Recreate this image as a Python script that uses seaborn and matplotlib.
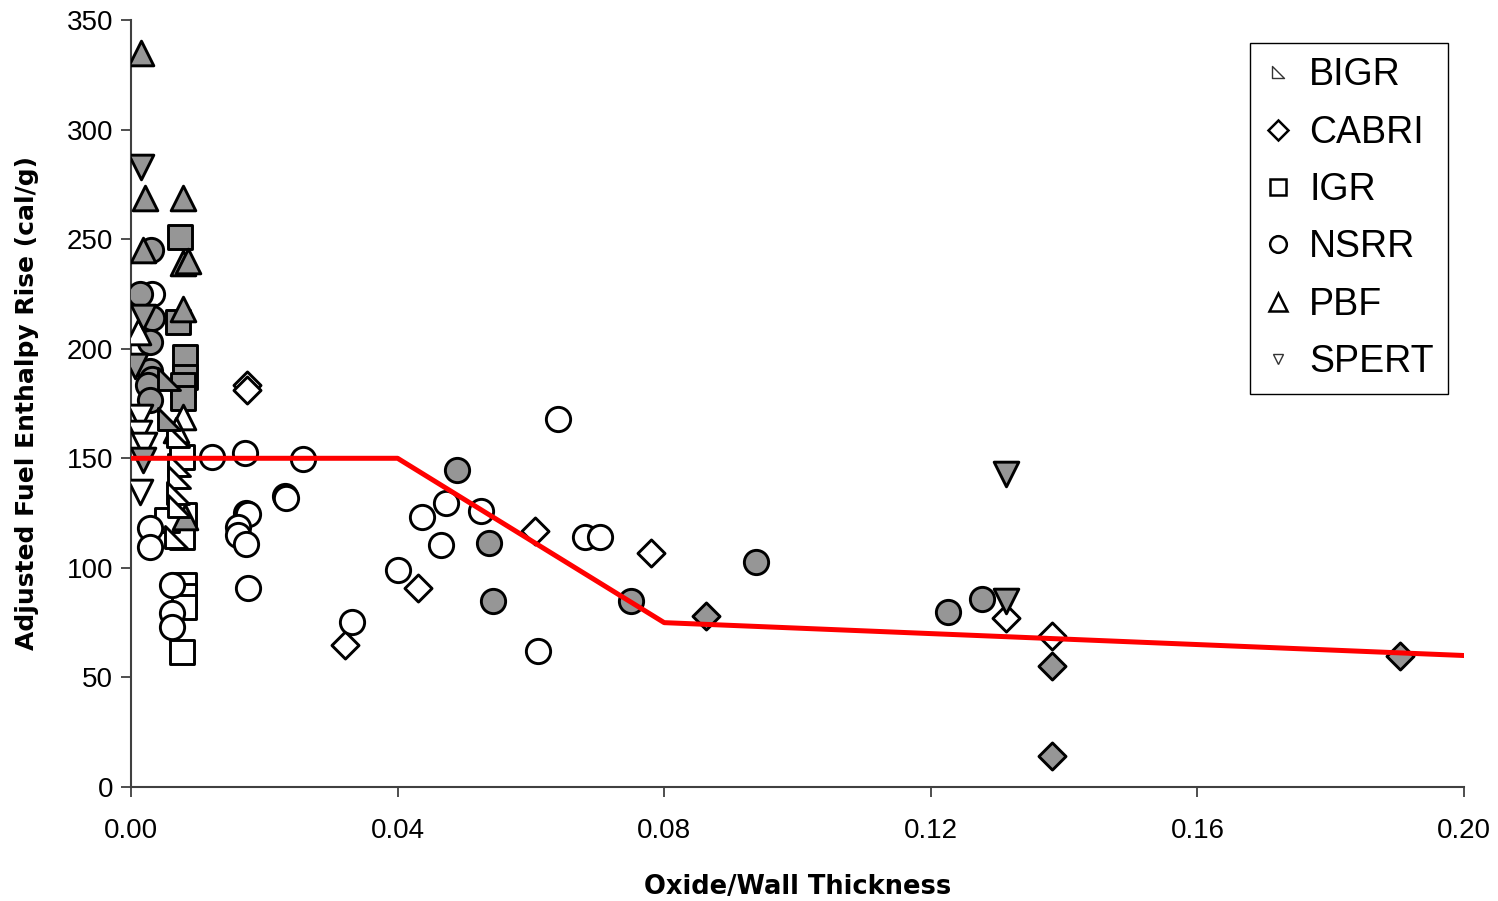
import numpy as np
import pandas as pd
import matplotlib
matplotlib.use("Agg")
import matplotlib.pyplot as plt
import seaborn as sns
from matplotlib.lines import Line2D
from matplotlib.path import Path

sns.set_theme(style="white")
plt.rcParams['font.family'] = ['Liberation Sans', 'DejaVu Sans']
plt.rcParams['text.color'] = 'black'
plt.rcParams['axes.labelcolor'] = 'black'
plt.rcParams['xtick.color'] = 'black'
plt.rcParams['ytick.color'] = 'black'

# ---------------- data ----------------
facilities = ["BIGR", "CABRI", "IGR", "NSRR", "PBF", "SPERT"]

bigr_open_x = [0.0070, 0.0072, 0.0072, 0.0070, 0.0072, 0.0068]
bigr_open_y = [160, 147, 141.5, 134, 128, 114]
bigr_fill_x = [0.0057, 0.0057]
bigr_fill_y = [186, 168]

cabri_open_x = [0.0174, 0.0174, 0.0321, 0.0430, 0.0606, 0.0780, 0.1313, 0.1382]
cabri_open_y = [183.5, 181, 65, 91, 117, 107, 77, 69]
cabri_fill_x = [0.0863, 0.1382, 0.1382, 0.1904]
cabri_fill_y = [78, 55, 14, 60]

igr_open_x = [0.0077, 0.0080, 0.0077, 0.0054, 0.0080, 0.0080, 0.0080, 0.0077]
igr_open_y = [150.6, 124, 114, 122, 92, 87, 82, 61.6]
igr_fill_x = [0.0074, 0.0071, 0.0081, 0.0081, 0.0078, 0.0078]
igr_fill_y = [251, 212, 196, 187, 183.5, 177.5]

nsrr_open_x = [0.0032, 0.0029, 0.0029, 0.0062, 0.0062, 0.0062, 0.0122, 0.0171,
               0.0258, 0.0231, 0.0233, 0.0173, 0.0175, 0.0160, 0.0160, 0.0173,
               0.0176, 0.0332, 0.0400, 0.0437, 0.0465, 0.0473, 0.0525, 0.0641,
               0.0611, 0.0681, 0.0704]
nsrr_open_y = [225, 118, 109.5, 92, 79.4, 73, 150.6, 152.4,
               149.7, 133, 132, 125, 124.5, 118.7, 115, 111,
               91, 75.3, 99, 123, 110.5, 129.6, 126, 168,
               62, 114, 114]
nsrr_fill_x = [0.0014, 0.0030, 0.0032, 0.0029, 0.0029, 0.0032, 0.0026, 0.0029,
               0.0489, 0.0537, 0.0543, 0.0750, 0.0938, 0.1226, 0.1277]
nsrr_fill_y = [225, 245, 214, 203, 190, 186, 183.5, 176.6,
               144.7, 111.4, 85, 85, 102.7, 80, 86]

pbf_open_x = [0.0010, 0.0078, 0.0068]
pbf_open_y = [207.7, 169, 163]
pbf_fill_x = [0.0015, 0.0021, 0.0078, 0.0018, 0.0078, 0.0085, 0.0078, 0.0081]
pbf_fill_y = [335, 269, 269, 245, 239, 240, 218, 123]

spert_open_x = [0.0014, 0.0012, 0.0014, 0.0020]
spert_open_y = [169, 161.5, 134.6, 156]
spert_fill_x = [0.0015, 0.0018, 0.0006, 0.0018, 0.1313, 0.1313]
spert_fill_y = [283, 214.5, 192, 149, 143, 85]

limit_x = [0.0, 0.04, 0.08, 0.20]
limit_y = [150, 150, 75, 60]

x_ticks = [0.00, 0.04, 0.08, 0.12, 0.16, 0.20]
y_ticks = [0, 50, 100, 150, 200, 250, 300, 350]

# ---------------- table ----------------
rows = []
def add(fac, filled, xs, ys):
    for a, b in zip(xs, ys):
        rows.append({"x": a, "y": b, "facility": fac, "filled": filled})

add("BIGR", False, bigr_open_x, bigr_open_y)
add("BIGR", True, bigr_fill_x, bigr_fill_y)
add("CABRI", False, cabri_open_x, cabri_open_y)
add("CABRI", True, cabri_fill_x, cabri_fill_y)
add("IGR", False, igr_open_x, igr_open_y)
add("IGR", True, igr_fill_x, igr_fill_y)
add("NSRR", False, nsrr_open_x, nsrr_open_y)
add("NSRR", True, nsrr_fill_x, nsrr_fill_y)
add("PBF", False, pbf_open_x, pbf_open_y)
add("PBF", True, pbf_fill_x, pbf_fill_y)
add("SPERT", False, spert_open_x, spert_open_y)
add("SPERT", True, spert_fill_x, spert_fill_y)
df = pd.DataFrame(rows)
line_df = pd.DataFrame({"x": limit_x, "y": limit_y})

# ---------------- figure ----------------
W, H = 1498, 901
fig = plt.figure(figsize=(W / 100, H / 100), dpi=100)
ax = fig.add_axes([131 / W, 1 - 787 / H, (1464 - 131) / W, (787 - 20) / H])

bigr_path = Path([(-1, 1), (-1, -1), (1, -1), (-1, 1)],
                 [Path.MOVETO, Path.LINETO, Path.LINETO, Path.CLOSEPOLY])
markers = {"BIGR": bigr_path, "CABRI": "D", "IGR": "s", "NSRR": "o",
           "PBF": "^", "SPERT": "v"}
sizes = {"BIGR": 250, "CABRI": 190, "IGR": 285, "NSRR": 305, "PBF": 315, "SPERT": 315}
gray = "#969696"

draw_order = [("CABRI", False), ("CABRI", True), ("IGR", False), ("IGR", True),
              ("NSRR", False), ("NSRR", True), ("PBF", False), ("PBF", True),
              ("SPERT", False), ("SPERT", True), ("BIGR", False), ("BIGR", True)]
z = 3
for fac, filled in draw_order:
    sub = df[(df.facility == fac) & (df.filled == filled)]
    sns.scatterplot(data=sub, x="x", y="y", marker=markers[fac], s=sizes[fac],
                    color=gray if filled else "white", edgecolor="black",
                    linewidth=2.1, ax=ax, legend=False, zorder=z)
    z += 0.1

sns.lineplot(data=line_df, x="x", y="y", color="red", linewidth=3.6, ax=ax,
             zorder=10, legend=False)

ax.set_xlim(0, 0.20)
ax.set_ylim(0, 350)
ax.set_xticks(x_ticks)
ax.set_xticklabels([f"{v:.2f}" for v in x_ticks])
ax.set_yticks(y_ticks)
ax.tick_params(axis="both", which="major", labelsize=20, direction="out",
               length=7, width=1.3, color="#404040", bottom=True, left=True)
ax.tick_params(axis="x", pad=15)
ax.tick_params(axis="y", pad=6)
for s in ["top", "right"]:
    ax.spines[s].set_visible(False)
for s in ["left", "bottom"]:
    ax.spines[s].set_color("#404040")
    ax.spines[s].set_linewidth(1.5)
ax.grid(False)

ax.set_xlabel("Oxide/Wall Thickness", fontsize=18.5, fontweight="bold",
              family="DejaVu Sans", labelpad=22)
ax.set_ylabel("Adjusted Fuel Enthalpy Rise (cal/g)", fontsize=18,
              fontweight="bold", family="DejaVu Sans", labelpad=20)

# legend
leg_ms = {"BIGR": 8, "CABRI": 10, "IGR": 12, "NSRR": 12, "PBF": 13, "SPERT": 7}
leg_mew = {"BIGR": 1.0, "CABRI": 1.8, "IGR": 1.8, "NSRR": 1.8, "PBF": 1.8, "SPERT": 1.0}
handles = [Line2D([], [], linestyle="none", marker=markers[f], markersize=leg_ms[f],
                  markerfacecolor="white",
                  markeredgecolor="#333333" if f in ("BIGR", "SPERT") else "black",
                  markeredgewidth=leg_mew[f]) for f in facilities]
leg = ax.legend(handles, facilities, loc="upper right",
                bbox_to_anchor=(1448 / W, 1 - 43 / H), bbox_transform=fig.transFigure,
                fontsize=27, frameon=True, fancybox=False, framealpha=1,
                edgecolor="black", labelspacing=0.57, handlelength=0.75,
                handletextpad=0.45, borderpad=0.38, borderaxespad=0)
leg.get_frame().set_linewidth(1.0)

fig.savefig("out.png", dpi=100)
